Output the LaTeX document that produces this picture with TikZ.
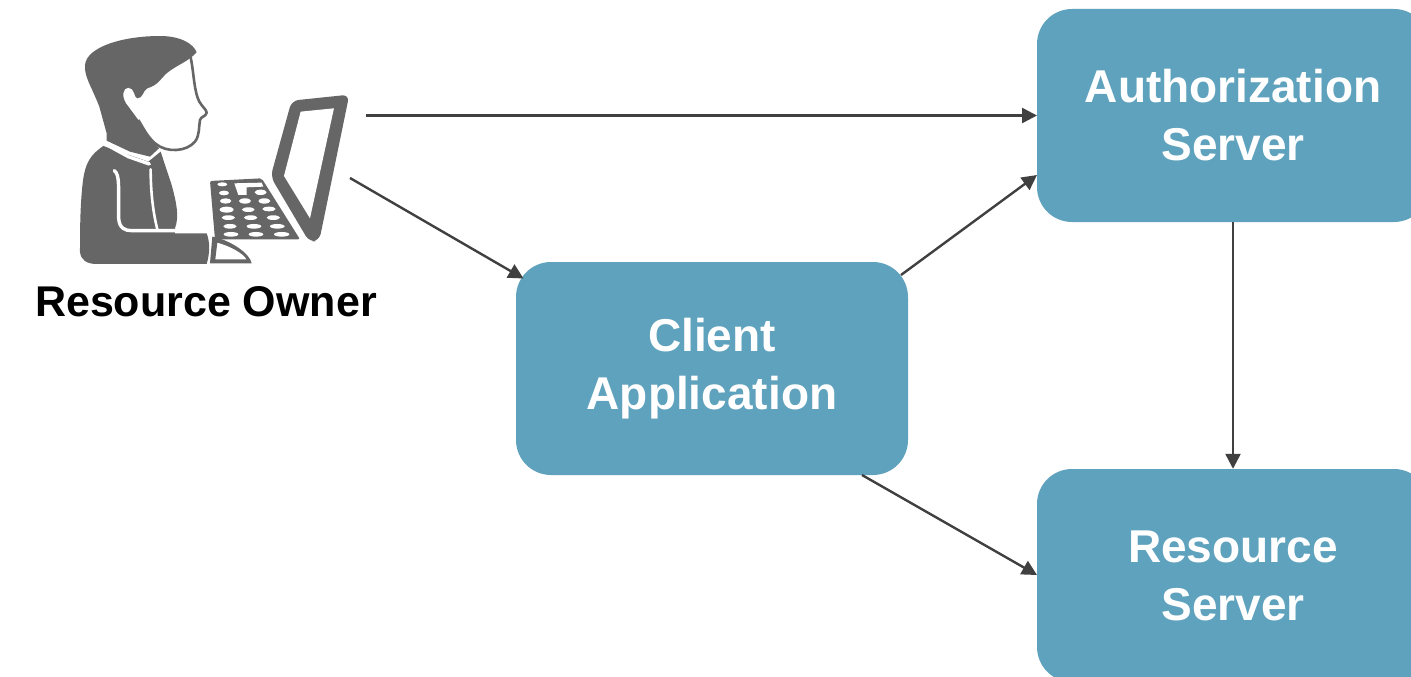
\documentclass[tikz,border=0pt]{standalone}
\usepackage{fontspec}
\setmainfont{Liberation Sans}
\usetikzlibrary{arrows.meta}
\definecolor{boxblue}{HTML}{5FA2BD}
\definecolor{icongray}{HTML}{666666}
\definecolor{linegray}{HTML}{404040}
\tikzstyle{process} = [rectangle, rounded corners=35pt, minimum width=392pt, minimum height=213pt, inner sep=0pt, align=center, fill=boxblue, text=white, font=\fontsize{46}{58}\selectfont\bfseries]
\tikzstyle{arrow} = [line width=2.4pt, linegray, -{Triangle[length=15pt,width=15pt]}]
\tikzstyle{cutout} = [white, line width=3.4pt, line cap=round, line join=round]

\begin{document}
\begin{tikzpicture}[x=1pt, y=-1pt]
    \useasboundingbox (0,0) rectangle (1411,677);

    \node (client) [process] at (712,368.5) {Client\\Application};
    \node (auth) [process] at (1233,115.5) {Authorization\\Server};
    \node (resource) [process] at (1233,575.5) {Resource\\Server};
    \node (owner) at (206,302) [font=\fontsize{43}{50}\selectfont\bfseries] {Resource Owner};

    % free ends of the connectors
    \coordinate (ownerTop) at (366,115.5);
    \coordinate (ownerSide) at (350,178);
    \coordinate (clientIn) at (523.5,278.5);
    \coordinate (clientUp) at (901,275);
    \coordinate (clientDown) at (862,475);
    \coordinate (authIn) at (1037,115.5);
    \coordinate (authLow) at (1037,175);
    \coordinate (resourceIn) at (1037,575);

    \draw [arrow] (ownerTop) -- (authIn);
    \draw [arrow] (ownerSide) -- (clientIn);
    \draw [arrow] (clientUp) -- (authLow);
    \draw [arrow] (clientDown) -- (resourceIn);
    \draw [arrow] (auth) -- (resource);

    % person at the laptop
    \begin{scope}[shift={(60,20)}, x=0.3333pt, y=-0.3333pt]
        % hair and neck
        \fill [icongray] (300,48) .. controls (360,48) and (400,70) .. (410,97)
            .. controls (385,125) and (350,135) .. (320,160)
            .. controls (300,178) and (295,195) .. (262,205)
            .. controls (248,212) and (250,235) .. (232,235)
            .. controls (222,235) and (225,203) .. (205,203)
            .. controls (188,203) and (185,230) .. (198,250)
            -- (235,300) -- (265,345) -- (297,385) -- (270,410) -- (210,395) -- (140,362) -- (140,340)
            -- (118,260) .. controls (95,200) and (72,170) .. (75,135)
            .. controls (80,80) and (190,48) .. (300,48) -- cycle;
        % face line
        \draw [icongray, line width=2.6pt, line join=round] (392,112)
            .. controls (402,160) and (402,215) .. (418,245)
            .. controls (428,262) and (440,270) .. (440,278)
            .. controls (438,290) and (424,288) .. (420,300)
            .. controls (416,320) and (420,345) .. (405,365)
            .. controls (380,395) and (320,400) .. (285,370)
            .. controls (262,350) and (250,325) .. (235,300);
        % suit, tie and arm
        \fill [icongray] (130,378) .. controls (90,405) and (75,430) .. (68,490)
            .. controls (60,560) and (60,640) .. (60,695)
            .. controls (62,720) and (80,732) .. (110,732)
            -- (440,732) .. controls (450,700) and (450,665) .. (440,640)
            -- (345,640) -- (345,625) .. controls (358,590) and (350,550) .. (335,495)
            -- (302,395) -- (265,425) -- cycle;
        \draw [cutout] (136,372) -- (205,410) -- (268,432);
        \draw [cutout, line width=2.6pt] (272,448) .. controls (272,520) and (280,580) .. (292,628);
        \draw [cutout] (163,452) .. controls (180,465) and (175,500) .. (176,595)
            .. controls (178,625) and (195,632) .. (215,632) -- (345,632);
        % mouse hand
        \fill [icongray, even odd rule] (457,650) .. controls (510,660) and (570,700) .. (575,730) -- (450,730) -- cycle
            (472,668) .. controls (510,678) and (550,700) .. (560,718) -- (466,718) -- cycle;
        % keyboard
        \fill [icongray, rounded corners=2pt] (450,483) -- (605,475) -- (720,658) -- (465,658) -- cycle;
        \fill [white] (523,490) -- (605,488) -- (610,500) -- (560,502) -- (560,525) -- (535,525) -- cycle;
        \fill [white] (487,493) ellipse [x radius=15, y radius=6]
            (602,517) ellipse [x radius=18, y radius=8]
            (492,519) ellipse [x radius=15, y radius=7];
        \fill [white] (497,543) ellipse [x radius=17, y radius=8]
            (555,543) ellipse [x radius=18, y radius=8]
            (613,543) ellipse [x radius=18, y radius=8];
        \fill [white] (500,569) ellipse [x radius=21, y radius=9]
            (565,569) ellipse [x radius=19, y radius=7]
            (627,567) ellipse [x radius=20, y radius=7];
        \fill [white] (505,593) ellipse [x radius=20, y radius=7]
            (572,593) ellipse [x radius=20, y radius=7]
            (640,593) ellipse [x radius=20, y radius=7];
        \fill [white] (510,619) ellipse [x radius=20, y radius=7]
            (582,619) ellipse [x radius=22, y radius=7]
            (652,619) ellipse [x radius=22, y radius=7];
        \fill [white] (513,643) ellipse [x radius=22, y radius=7]
            (588,643) ellipse [x radius=22, y radius=7]
            (665,643) ellipse [x radius=23, y radius=7];
        % laptop screen
        \fill [icongray, even odd rule, rounded corners=7pt] (695,242) -- (868,224) -- (778,662) -- (748,666) -- (632,470) -- cycle;
        \fill [white] (722,275) -- (822,265) -- (750,595) -- (672,468) -- cycle;
    \end{scope}
\end{tikzpicture}
\end{document}
